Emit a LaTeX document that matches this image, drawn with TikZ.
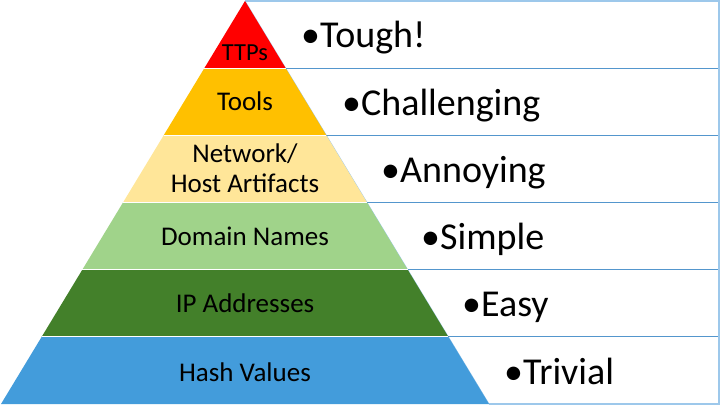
\documentclass[tikz,border=0pt]{standalone}
\usepackage{fontspec}
\setmainfont{Carlito}
\usepackage{tikz}
\usetikzlibrary{calc}
\tikzset{>=latex}
\definecolor{ttpred}{RGB}{255,0,0}
\definecolor{toolorange}{RGB}{255,192,0}
\definecolor{artyellow}{RGB}{255,230,153}
\definecolor{domgreen}{RGB}{160,211,138}
\definecolor{ipgreen}{RGB}{67,128,42}
\definecolor{hashblue}{RGB}{67,156,219}
\definecolor{rowline}{RGB}{84,150,205}
\definecolor{edgeline}{RGB}{157,200,235}
\tikzset{
  level/.style = {inner sep = 0pt, font = \fontsize{27}{30}\selectfont, align = center},
  pain/.style = {inner sep = 0pt, anchor = base west, font = \fontsize{38}{42}\selectfont}
}

\begin{document}
\begin{tikzpicture}[x = 1pt, y = -1pt]
\useasboundingbox (0,0) rectangle (720,405);
\coordinate (apex) at (245,1);
\coordinate (bl) at (1,404);
\coordinate (br) at (489,404);
\coordinate (rt) at (719,1);
\coordinate (rb) at (719,404);
% table on the right
\draw[edgeline, line width = 0.8pt] (apex) -- (br);
\foreach \k in {1,...,5}
{
\coordinate (r\k) at ($(apex)!\k/6!(br)$);
\draw[rowline, line width = 1pt] (r\k) -- (r\k -| rt);
}
\draw[edgeline, line width = 1.5pt] (apex) -- (rt) -- (rb) -- (br);
% pyramid bands
\foreach \col/\k/\kk in {ttpred/0/1, toolorange/1/2, artyellow/2/3, domgreen/3/4, ipgreen/4/5, hashblue/5/6}
\fill[\col] ($(apex)!\k/6!(bl)$) -- ($(apex)!\k/6!(br)$) -- ($(apex)!\kk/6!(br)$) -- ($(apex)!\kk/6!(bl)$) -- cycle;
\foreach \k in {1,...,5}
\draw[white, line width = 1.2pt] ($(apex)!\k/6!(bl)$) -- ($(apex)!\k/6!(br)$);
% pyramid labels
\node[level, anchor = base, font = \fontsize{24.5}{28}\selectfont] (ttps) at (245,60) {TTPs};
\node[level, anchor = base] (tools) at (245,110) {Tools};
\node[level] (artifacts) at (245,168.5) {Network/\\Host Artifacts};
\node[level, anchor = base] (domains) at (245,245) {Domain Names};
\node[level, anchor = base] (ips) at (245,312) {IP Addresses};
\node[level, anchor = base] (hashes) at (245,381) {Hash Values};
% pain on the right
\node[pain] (tough) at (301,47) {•Tough!};
\node[pain] (challenging) at (342,115) {•Challenging};
\node[pain] (annoying) at (381,182) {•Annoying};
\node[pain] (simple) at (421,249) {•Simple};
\node[pain] (easy) at (462,316) {•Easy};
\node[pain] (trivial) at (504,384) {•Trivial};
\end{tikzpicture}
\end{document}
